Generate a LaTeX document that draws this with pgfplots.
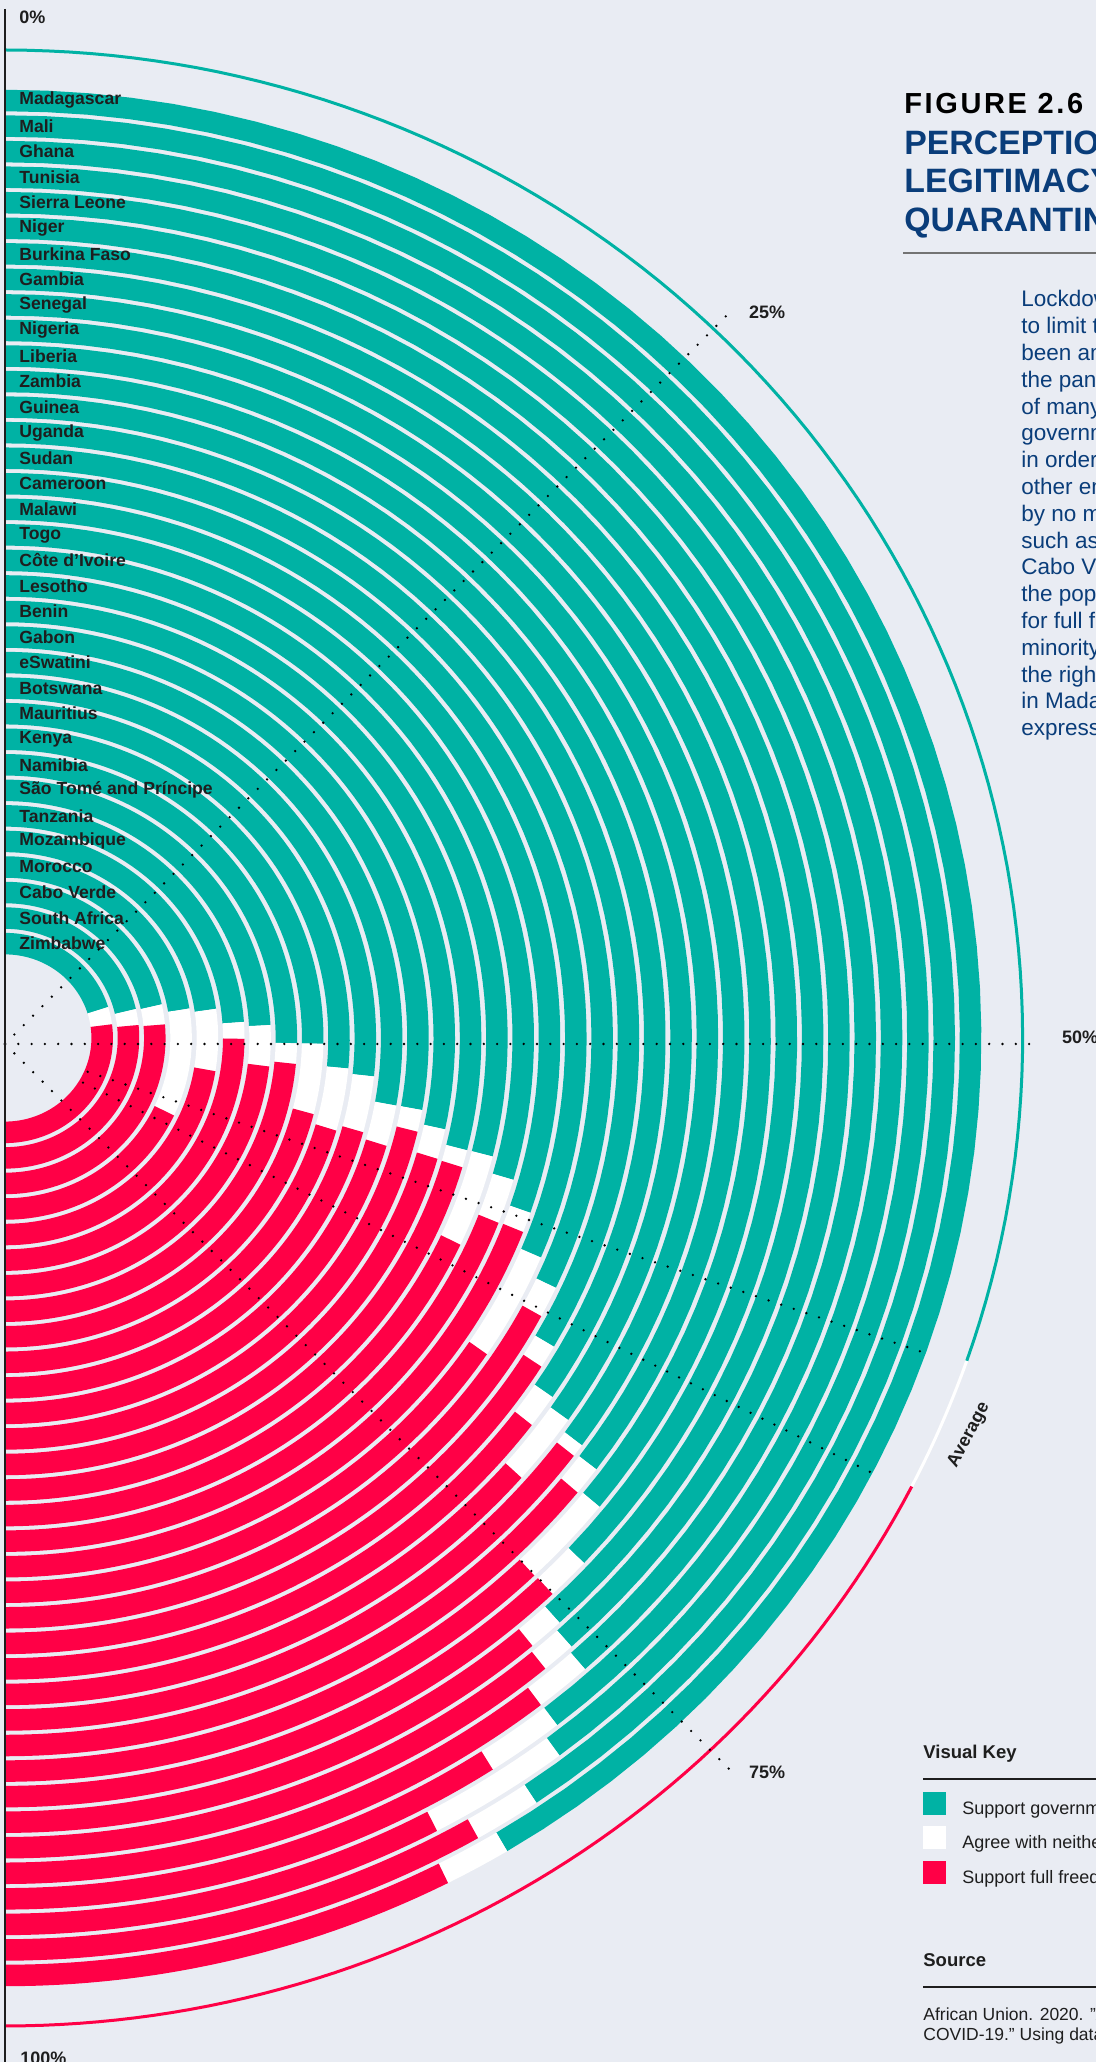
\documentclass[border=0pt]{standalone}
\usepackage{fontspec}
\setmainfont{Liberation Sans}
\usepackage{pgfplots}
\pgfplotsset{compat=1.18}

\definecolor{bgcol}{RGB}{233,236,243}
\definecolor{govt}{RGB}{0,178,164}
\definecolor{free}{RGB}{255,0,70}
\definecolor{titleblue}{RGB}{10,61,122}
\definecolor{inkdark}{RGB}{30,30,30}

% one ring: radius, support government, neither, full freedom, country
\newcommand{\ring}[5]{%
  \addplot[govt, line width=10.75pt, domain=0:#2, samples=61] ({#1*sin(1.8*x)}, {#1*cos(1.8*x)});
  \addplot[white, line width=10.75pt, domain=#2:#2+#3, samples=12] ({#1*sin(1.8*x)}, {#1*cos(1.8*x)});
  \addplot[free, line width=10.75pt, domain=100-#4:100, samples=61] ({#1*sin(1.8*x)}, {#1*cos(1.8*x)});
  \node[anchor=west, inner sep=0pt, text=inkdark, font=\bfseries\fontsize{8.8}{9}\selectfont] at (axis cs:13.6,#1) {#5};
}

\begin{document}
\begin{tikzpicture}
\useasboundingbox (0,0) rectangle (548pt,1031pt);
\fill[bgcol] (0,0) rectangle (548pt,1031pt);

\begin{axis}[
  at={(0pt,0pt)}, anchor=south west,
  x=0.515pt, y=0.5pt,
  xmin=-4.854, xmax=1059.2,
  ymin=-1024, ymax=1038,
  hide axis, clip=false,
]
\ring{937.5}{82.8}{2.2}{15.0}{Madagascar}
\ring{911.95}{81.1}{2.3}{16.6}{Mali}
\ring{886.4}{79.5}{5.0}{15.5}{Ghana}
\ring{860.85}{78.9}{2.8}{18.3}{Tunisia}
\ring{835.3}{76.8}{2.1}{21.1}{Sierra Leone}
\ring{809.75}{76.6}{1.3}{22.1}{Niger}
\ring{784.2}{76.3}{1.4}{22.3}{Burkina Faso}
\ring{758.65}{73.9}{1.8}{24.3}{Gambia}
\ring{733.1}{71.7}{4.0}{24.3}{Senegal}
\ring{707.55}{70.5}{1.3}{28.2}{Nigeria}
\ring{682.0}{70.0}{0.6}{29.4}{Liberia}
\ring{656.45}{69.4}{3.5}{27.1}{Zambia}
\ring{630.9}{68.9}{1.7}{29.4}{Guinea}
\ring{605.35}{66.7}{1.2}{32.1}{Uganda}
\ring{579.8}{63.9}{1.7}{34.4}{Sudan}
\ring{554.25}{62.7}{6.2}{31.1}{Cameroon}
\ring{528.7}{60.5}{1.2}{38.3}{Malawi}
\ring{503.15}{58.9}{2.8}{38.3}{Togo}
\ring{477.6}{57.8}{6.1}{36.1}{Côte d'Ivoire}
\ring{452.05}{57.8}{1.2}{41.0}{Lesotho}
\ring{426.5}{56.7}{2.2}{41.1}{Benin}
\ring{400.95}{55.6}{1.7}{42.7}{Gabon}
\ring{375.4}{55.6}{3.4}{41.0}{eSwatini}
\ring{349.85}{53.4}{5.0}{41.6}{Botswana}
\ring{324.3}{52.9}{6.0}{41.1}{Mauritius}
\ring{298.75}{50.6}{7.3}{42.1}{Kenya}
\ring{273.2}{50.6}{2.3}{47.1}{Namibia}
\ring{247.65}{48.4}{5.1}{46.5}{São Tomé and Príncipe}
\ring{222.1}{47.8}{2.3}{49.9}{Tanzania}
\ring{196.55}{45.5}{9.6}{44.9}{Mozambique}
\ring{171.0}{44.8}{19.2}{36.0}{Morocco}
\ring{145.45}{43.1}{4.1}{52.8}{Cabo Verde}
\ring{119.9}{42.9}{3.9}{53.2}{South Africa}
\ring{94.35}{40.5}{5.3}{54.2}{Zimbabwe}

% average ring
\addplot[govt, line width=1.5pt, domain=0:60.6, samples=91] ({988*sin(1.8*x)}, {988*cos(1.8*x)});
\addplot[white, line width=1.5pt, domain=60.6:65.0, samples=12] ({988*sin(1.8*x)}, {988*cos(1.8*x)});
\addplot[free, line width=1.5pt, domain=65.0:100, samples=61] ({988*sin(1.8*x)}, {988*cos(1.8*x)});

% dotted guide lines
\pgfplotsset{guide/.style={black, line width=1.3pt, line cap=round, dash pattern=on 0pt off 6.65pt}}
\addplot[guide] coordinates {(0,-6) (704,726)};
\addplot[guide] coordinates {(0,-6) (999,-6)};
\addplot[guide] coordinates {(0,-6) (704,-732)};
\addplot[guide] coordinates {(80.3,-33.8) (893.0,-314.9)};
\addplot[guide] coordinates {(75.7,-44.6) (842.0,-435.0)};

% vertical axis line
\addplot[inkdark, line width=1.25pt] coordinates {(0,1029) (0,-1030)};

\node[anchor=west, inner sep=0pt, text=inkdark, font=\bfseries\fontsize{9}{9}\selectfont] at (axis cs:13.6,1021) {0\%};
\node[anchor=west, inner sep=0pt, text=inkdark, font=\bfseries\fontsize{9}{9}\selectfont] at (axis cs:14.6,-1020) {100\%};
\node[anchor=west, inner sep=0pt, text=inkdark, font=\bfseries\fontsize{9}{9}\selectfont] at (axis cs:722,726) {25\%};
\node[anchor=west, inner sep=0pt, text=inkdark, font=\bfseries\fontsize{9}{9}\selectfont] at (axis cs:1026,1) {50\%};
\node[anchor=west, inner sep=0pt, text=inkdark, font=\bfseries\fontsize{9}{9}\selectfont] at (axis cs:722,-734) {75\%};
\node[rotate=62, inner sep=0pt, text=inkdark, font=\bfseries\fontsize{9}{9}\selectfont] at (axis cs:936,-397) {Average};
\end{axis}

% title block
\node[anchor=base west, inner sep=0pt, font=\bfseries\fontsize{14.5}{14.5}\selectfont\addfontfeature{LetterSpace=9}] at (452pt,974pt) {FIGURE 2.6};
\node[anchor=base west, inner sep=0pt, text=titleblue, font=\bfseries\fontsize{16.9}{17}\selectfont] at (452pt,953.5pt) {PERCEPTIONS OF THE};
\node[anchor=base west, inner sep=0pt, text=titleblue, font=\bfseries\fontsize{16.9}{17}\selectfont] at (452pt,934.5pt) {LEGITIMACY OF};
\node[anchor=base west, inner sep=0pt, text=titleblue, font=\bfseries\fontsize{16.9}{17}\selectfont] at (452pt,915pt) {QUARANTINE MEASURES};
\draw[black!55, line width=0.6pt] (451.5pt,904.5pt) -- (548pt,904.5pt);

\foreach \t [count=\k from 0] in {
  {Lockdowns and movement restrictions},
  {to limit the spread of COVID-19 have},
  {been among the defining features of},
  {the pandemic response in Africa and},
  {of many countries where citizens accept},
  {governments may limit freedoms},
  {in order to contain the virus and},
  {other emergencies. This support is},
  {by no means uniform however. In countries},
  {such as Zimbabwe and South Africa and},
  {Cabo Verde less than half of},
  {the population backs restrictions and calls},
  {for full freedom are strong. Only a},
  {minority of citizens support},
  {the right to full freedom of movement},
  {in Madagascar where most respondents},
  {expressed support for restrictions.}}
  \node[anchor=base west, inner sep=0pt, text=titleblue, font=\fontsize{11.25}{11.5}\selectfont] at (510.5pt,{877.5pt-13.4pt*\k}) {\t};

% visual key
\node[anchor=base west, inner sep=0pt, text=inkdark, font=\bfseries\fontsize{9.25}{9.25}\selectfont] at (461.5pt,151.5pt) {Visual Key};
\draw[inkdark, line width=0.7pt] (461.5pt,141.5pt) -- (548pt,141.5pt);
\fill[govt] (461.5pt,123.5pt) rectangle (473pt,135pt);
\fill[white] (461.5pt,106.5pt) rectangle (473pt,118pt);
\fill[free] (461.5pt,89pt) rectangle (473pt,100.5pt);
\node[anchor=base west, inner sep=0pt, text=inkdark, font=\fontsize{9}{9}\selectfont] at (481pt,123.5pt) {Support government restrictions};
\node[anchor=base west, inner sep=0pt, text=inkdark, font=\fontsize{9}{9}\selectfont] at (481pt,106.5pt) {Agree with neither};
\node[anchor=base west, inner sep=0pt, text=inkdark, font=\fontsize{9}{9}\selectfont] at (481pt,89pt) {Support full freedom of movement};

% source
\node[anchor=base west, inner sep=0pt, text=inkdark, font=\bfseries\fontsize{9.25}{9.25}\selectfont] at (461.5pt,47.5pt) {Source};
\draw[inkdark, line width=0.7pt] (461.5pt,37.5pt) -- (548pt,37.5pt);
\node[anchor=base west, inner sep=0pt, text=inkdark, font=\fontsize{8.75}{8.75}\selectfont] at (461.5pt,20.5pt) {African Union. 2020. "Africa's Governance Response to};
\node[anchor=base west, inner sep=0pt, text=inkdark, font=\fontsize{8.75}{8.75}\selectfont] at (461.5pt,10.5pt) {COVID-19." Using data from Afrobarometer.};
\end{tikzpicture}
\end{document}
